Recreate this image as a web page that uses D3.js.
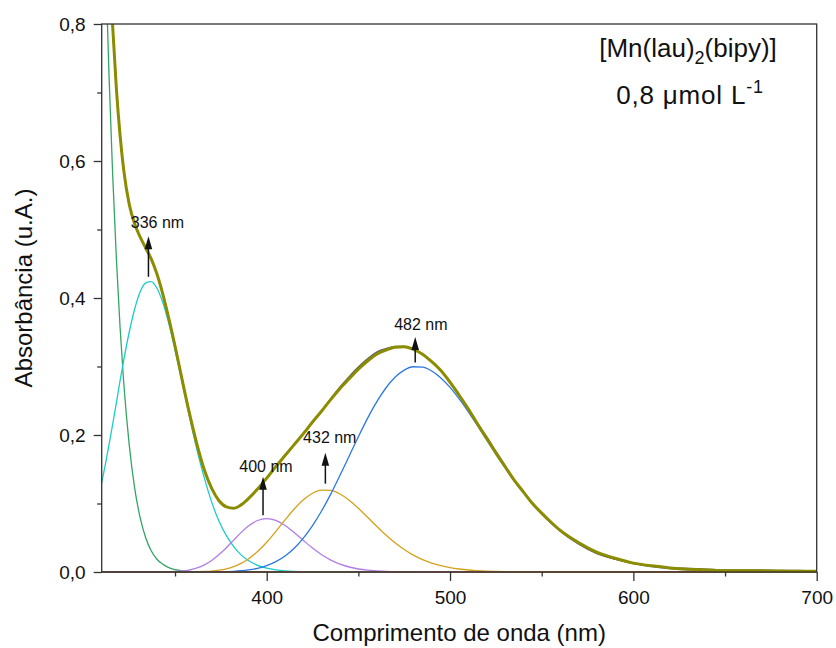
<!DOCTYPE html>
<html><head><meta charset="utf-8">
<script src="https://cdn.jsdelivr.net/npm/d3@7"></script>
<style>body{margin:0;background:#fff}svg{display:block}text{font-family:"Liberation Sans",Arial,sans-serif;fill:#111}</style>
</head><body>
<svg id="chart" width="836" height="648"></svg>
<script>
// wavelength grid (nm)
const wavelengths = [310,312,314,316,318,320,322,325,328,331,334,337,340,343,346,350,354,358,362,366,370,374,378,382,386,390,395,400,405,410,415,420,425,430,435,440,445,450,455,460,465,470,475,480,485,490,495,500,505,510,515,520,525,530,535,540,545,550,555,560,570,580,590,600,610,620,630,640,650,660,670,680,690,700];
// deconvoluted bands (absorbance, u.A.)
const bandUV  = [1.101,0.898,0.725,0.579,0.458,0.358,0.277,0.186,0.122,0.079,0.050,0.031,0.019,0.012,0.007,0.0035,0.0017,0.0008,0.0004,0.0002,0.0001,0,0,0,0,0,0,0,0,0,0,0,0,0,0,0,0,0,0,0,0,0,0,0,0,0,0,0,0,0,0,0,0,0,0,0,0,0,0,0,0,0,0,0,0,0,0,0,0,0,0,0,0,0];
const band336 = [0.130,0.157,0.186,0.216,0.247,0.279,0.309,0.350,0.384,0.409,0.422,0.424,0.415,0.396,0.369,0.324,0.275,0.225,0.178,0.137,0.102,0.074,0.053,0.037,0.025,0.0167,0.0098,0.0057,0.0032,0.0017,0.0009,0.0005,0.0003,0.0001,0,0,0,0,0,0,0,0,0,0,0,0,0,0,0,0,0,0,0,0,0,0,0,0,0,0,0,0,0,0,0,0,0,0,0,0,0,0,0,0];
const band400 = [0,0,0,0,0,0,0,0,0,0,0,0,0.0001,0.0002,0.0003,0.0007,0.0015,0.0032,0.006,0.0105,0.0169,0.0254,0.0355,0.0466,0.0575,0.067,0.0752,0.078,0.0753,0.0679,0.0576,0.0461,0.0349,0.0252,0.0174,0.0114,0.0073,0.0044,0.0026,0.0015,0.0008,0.0005,0.0002,0.0001,0,0,0,0,0,0,0,0,0,0,0,0,0,0,0,0,0,0,0,0,0,0,0,0,0,0,0,0,0,0];
const band432 = [0,0,0,0,0,0,0,0,0,0,0,0,0,0,0,0,0,0,0.0003,0.0007,0.0014,0.0027,0.0047,0.0079,0.0126,0.0191,0.0299,0.0435,0.0593,0.076,0.092,0.1054,0.115,0.1196,0.1191,0.1139,0.1048,0.0931,0.080,0.0667,0.054,0.0426,0.0328,0.0246,0.0181,0.013,0.0092,0.0064,0.0044,0.0029,0.002,0.0013,0.0008,0.0005,0.0003,0.0002,0.0001,0,0,0,0,0,0,0,0,0,0,0,0,0,0,0,0,0];
const band482 = [0,0,0,0,0,0,0,0,0,0,0,0,0,0,0,0,0,0,0,0,0.0002,0.0003,0.0006,0.001,0.0018,0.003,0.0054,0.0093,0.0151,0.0234,0.0347,0.0494,0.0677,0.0894,0.1141,0.1412,0.1693,0.1974,0.2242,0.2483,0.2686,0.2842,0.2947,0.2996,0.2991,0.2934,0.2833,0.2695,0.2527,0.2338,0.2135,0.1928,0.1722,0.1522,0.1332,0.1155,0.0993,0.0847,0.0716,0.0602,0.0417,0.0282,0.0187,0.0122,0.0078,0.005,0.0031,0.0019,0.0012,0.0007,0.0004,0.0003,0.0002,0.0001];
// cumulative fit and measured spectrum
const fitSum  = [1.232,1.056,0.912,0.796,0.706,0.638,0.587,0.537,0.508,0.489,0.473,0.457,0.436,0.409,0.377,0.330,0.279,0.230,0.186,0.149,0.122,0.104,0.095,0.093,0.098,0.107,0.121,0.137,0.154,0.170,0.186,0.202,0.219,0.235,0.252,0.268,0.282,0.296,0.308,0.318,0.324,0.328,0.329,0.325,0.318,0.307,0.294,0.277,0.258,0.238,0.216,0.195,0.174,0.154,0.134,0.117,0.100,0.086,0.073,0.061,0.043,0.029,0.020,0.013,0.009,0.006,0.004,0.003,0.002,0.002,0.0015,0.0013,0.0012,0.0011];
const measured= [1.232,1.056,0.912,0.796,0.706,0.638,0.587,0.537,0.508,0.489,0.473,0.457,0.436,0.409,0.377,0.330,0.279,0.230,0.186,0.149,0.122,0.104,0.095,0.093,0.098,0.107,0.121,0.137,0.154,0.170,0.186,0.202,0.219,0.235,0.253,0.270,0.285,0.299,0.311,0.321,0.326,0.329,0.329,0.325,0.318,0.307,0.294,0.277,0.258,0.238,0.217,0.197,0.176,0.155,0.134,0.117,0.100,0.085,0.072,0.060,0.041,0.027,0.019,0.013,0.009,0.006,0.005,0.004,0.003,0.003,0.003,0.002,0.002,0.001];
const baselineWl = [310,700];
const baselineVal = [0,0];
// tick values
const xMajor = [400,500,600,700], xMinor = [350,450,550,650];
const yMajor = [0,0.2,0.4,0.6,0.8], yMinor = [0.1,0.3,0.5,0.7];
// peak annotations
const peakLabels = ["336 nm","400 nm","432 nm","482 nm"];
const peakArrowX = [335.5,398,432,481];
const arrowFrom = [0.431,0.083,0.129,0.306];
const arrowTo   = [0.490,0.139,0.174,0.343];
const labelX = [340.4,399.6,434.4,484.1];
const labelY = [0.502,0.146,0.188,0.354];

const svg = d3.select("#chart");
const L=101.7,R=816.7,T=24,B=572;
const x = d3.scaleLinear().domain([310,700]).range([L,R]);
const y = d3.scaleLinear().domain([0,0.8]).range([B,T]);

svg.append("defs").append("clipPath").attr("id","clip")
  .append("rect").attr("x",L).attr("y",T).attr("width",R-L).attr("height",B-T+3);

const plot = svg.append("g").attr("clip-path","url(#clip)");
const line = d3.line().x(d=>x(d[0])).y(d=>y(d[1])).curve(d3.curveMonotoneX);
const zip = arr => wavelengths.map((w,i)=>[w,arr[i]]);

const comps = [
  {v:bandUV, c:"#34a464"},
  {v:band336,c:"#1ccccc"},
  {v:band400,c:"#b17de6"},
  {v:band432,c:"#d4a11c"},
  {v:band482,c:"#2b78e2"}
];
comps.forEach(s=>{
  plot.append("path").attr("d",line(zip(s.v))).attr("fill","none")
    .attr("stroke",s.c).attr("stroke-width",1.3);
});
plot.append("path").attr("d",line(baselineWl.map((w,i)=>[w,baselineVal[i]])))
  .attr("fill","none").attr("stroke","#a0522d").attr("stroke-width",1.5);
plot.append("path").attr("d",line(zip(measured))).attr("fill","none")
  .attr("stroke","#606060").attr("stroke-width",1.6);
plot.append("path").attr("d",line(zip(fitSum))).attr("fill","none")
  .attr("stroke","#8c8c00").attr("stroke-width",3);

// frame
svg.append("rect").attr("x",L).attr("y",T).attr("width",R-L).attr("height",B-T)
  .attr("fill","none").attr("stroke","#333").attr("stroke-width",1.3);

// axes
const fmtY = d=>d.toFixed(1).replace(".",",");
const gx = svg.append("g").attr("transform",`translate(0,${B})`)
  .call(d3.axisBottom(x).tickValues(xMajor).tickSize(9).tickPadding(10).tickFormat(d3.format("d")));
const gxm = svg.append("g").attr("transform",`translate(0,${B})`)
  .call(d3.axisBottom(x).tickValues(xMinor).tickSize(4.5).tickFormat(""));
const gy = svg.append("g").attr("transform",`translate(${L},0)`)
  .call(d3.axisLeft(y).tickValues(yMajor).tickSize(8).tickPadding(8).tickFormat(fmtY));
const gym = svg.append("g").attr("transform",`translate(${L},0)`)
  .call(d3.axisLeft(y).tickValues(yMinor).tickSize(4.5).tickFormat(""));
[gx,gxm,gy,gym].forEach(g=>{
  g.select(".domain").remove();
  g.selectAll("line").attr("stroke","#333").attr("stroke-width",1.3);
  g.selectAll("text").style("font-size","19px").attr("fill","#111")
   .style("font-family","'Liberation Sans',Arial,sans-serif");
});

// axis titles
svg.append("text").attr("x",(L+R)/2).attr("y",641).attr("text-anchor","middle")
  .style("font-size","24px").text("Comprimento de onda (nm)");
svg.append("text").attr("transform","translate(32,288) rotate(-90)").attr("text-anchor","middle")
  .style("font-size","24px").text("Absorbância (u.A.)");

// sample annotation
const t1 = svg.append("text").attr("x",688).attr("y",57).attr("text-anchor","middle").style("font-size","26px");
t1.append("tspan").text("[Mn(lau)");
t1.append("tspan").attr("dy",7).style("font-size","18px").text("2");
t1.append("tspan").attr("dy",-7).text("(bipy)]");
const t2 = svg.append("text").attr("x",690).attr("y",104).attr("text-anchor","middle")
  .style("font-size","26px").style("letter-spacing","0.8px");
t2.append("tspan").text("0,8 μmol L");
t2.append("tspan").attr("dy",-11).style("font-size","18px").text("-1");

// peak arrows and labels
peakLabels.forEach((lab,i)=>{
  const ax = x(peakArrowX[i]), y0 = y(arrowFrom[i]), y1 = y(arrowTo[i]);
  svg.append("line").attr("x1",ax).attr("x2",ax).attr("y1",y0).attr("y2",y1+10)
    .attr("stroke","#111").attr("stroke-width",1.5);
  svg.append("path").attr("d",`M${ax},${y1} L${ax-3.8},${y1+13} L${ax+3.8},${y1+13} Z`).attr("fill","#111");
  svg.append("text").attr("x",x(labelX[i])).attr("y",y(labelY[i])).attr("text-anchor","middle")
    .style("font-size","16px").text(lab);
});
</script>
</body></html>
